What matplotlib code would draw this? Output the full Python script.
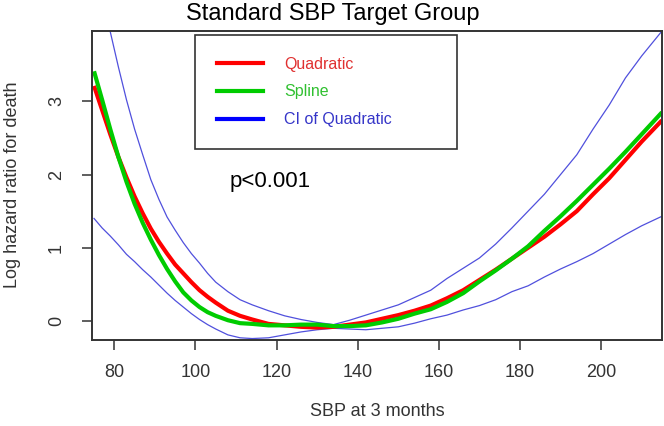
import matplotlib as mpl
mpl.use('Agg')
import matplotlib.pyplot as plt
import numpy as np

plt.rcParams['font.family'] = ['Liberation Sans', 'DejaVu Sans']

# SBP grid (mmHg) and curves
sbp = [75, 77, 79, 81, 83, 85, 87, 89, 91, 93, 95, 97, 99, 101, 103, 105, 108, 111,
       114, 118, 122, 126, 130, 134, 138, 142, 146, 150, 154, 158, 162, 166, 170,
       174, 178, 182, 186, 190, 194, 198, 202, 206, 210, 215]

quadratic = [3.21, 2.88, 2.55, 2.24, 1.96, 1.70, 1.47, 1.26, 1.08, 0.92, 0.77, 0.65,
             0.53, 0.42, 0.33, 0.25, 0.14, 0.07, 0.02, -0.04, -0.06, -0.08, -0.09,
             -0.08, -0.05, -0.02, 0.03, 0.08, 0.14, 0.21, 0.31, 0.42, 0.56, 0.70,
             0.85, 1.00, 1.15, 1.32, 1.50, 1.73, 1.95, 2.20, 2.45, 2.74]

spline = [3.41, 3.02, 2.62, 2.24, 1.90, 1.60, 1.34, 1.11, 0.90, 0.71, 0.54, 0.39,
          0.28, 0.19, 0.12, 0.07, 0.01, -0.03, -0.04, -0.06, -0.06, -0.05, -0.05,
          -0.07, -0.07, -0.06, -0.02, 0.03, 0.10, 0.16, 0.26, 0.38, 0.54, 0.69,
          0.85, 1.02, 1.23, 1.43, 1.64, 1.86, 2.08, 2.31, 2.55, 2.85]

ci_upper = [4.95, 4.45, 3.95, 3.47, 3.02, 2.62, 2.27, 1.93, 1.66, 1.42, 1.24, 1.07,
            0.92, 0.79, 0.65, 0.53, 0.40, 0.29, 0.22, 0.14, 0.07, 0.02, -0.02, -0.05,
            0.01, 0.08, 0.15, 0.22, 0.32, 0.42, 0.58, 0.72, 0.86, 1.05, 1.27, 1.50,
            1.73, 2.00, 2.27, 2.62, 2.95, 3.32, 3.62, 3.96]

ci_lower = [1.40, 1.27, 1.16, 1.04, 0.91, 0.81, 0.70, 0.60, 0.49, 0.38, 0.28, 0.19,
            0.10, 0.02, -0.05, -0.11, -0.19, -0.23, -0.24, -0.23, -0.19, -0.15, -0.12,
            -0.10, -0.11, -0.12, -0.10, -0.08, -0.03, 0.03, 0.08, 0.15, 0.21, 0.29,
            0.40, 0.48, 0.60, 0.71, 0.81, 0.92, 1.05, 1.18, 1.30, 1.43]

x_ticks = [80, 100, 120, 140, 160, 180, 200]
y_ticks = [0, 1, 2, 3]

grey = '#333333'

fig = plt.figure(figsize=(6.64, 4.26), dpi=100)
ax = fig.add_axes([92 / 664, 86 / 426, 570 / 664, 309 / 426])

ax.plot(sbp, ci_upper, color='#5050dd', lw=0.9)
ax.plot(sbp, ci_lower, color='#5050dd', lw=0.9)
ax.plot(sbp, quadratic, color='#ff0000', lw=3.0, solid_capstyle='butt')
ax.plot(sbp, spline, color='#00cc00', lw=3.0, solid_capstyle='butt')

ax.set_xlim(74.5, 215)
ax.set_ylim(-0.26, 3.96)
ax.set_xticks(x_ticks)
ax.set_yticks(y_ticks)
ax.tick_params(axis='both', length=7.5, width=1.1, color=grey, labelcolor=grey,
               labelsize=13)
ax.tick_params(axis='x', pad=10)
ax.tick_params(axis='y', pad=12)
for lab in ax.get_yticklabels():
    lab.set_rotation(90)
    lab.set_va('center')
for sp in ax.spines.values():
    sp.set_color(grey)
    sp.set_linewidth(1.4)

ax.text(108.5, 1.9, 'p<0.001', fontsize=16, ha='left', va='center', color='black')

# legend
handles = [plt.Line2D([], [], color='#ff0000', lw=3),
           plt.Line2D([], [], color='#00cc00', lw=3),
           plt.Line2D([], [], color='#0000ff', lw=3)]
labels = ['Quadratic', 'Spline', 'CI of Quadratic']
leg = ax.legend(handles, labels, loc='upper left',
                bbox_to_anchor=(195 / 664, 1 - 147 / 426, 262 / 664, 112 / 426),
                bbox_transform=fig.transFigure, mode='expand', borderaxespad=0,
                fontsize=11.5, handlelength=2.9, handletextpad=1.35, borderpad=1.35,
                labelspacing=0.8, fancybox=False, framealpha=1)
leg.get_frame().set_edgecolor(grey)
leg.get_frame().set_linewidth(1.2)
for txt, c in zip(leg.get_texts(), ['#e03030', '#30c030', '#3535c8']):
    txt.set_color(c)

fig.text(333 / 664, 1 - 14 / 426, 'Standard SBP Target Group', fontsize=17,
         ha='center', va='center', color='black')
fig.text(377 / 664, 1 - 412 / 426, 'SBP at 3 months', fontsize=13, ha='center',
         va='center', color=grey)
fig.text(13 / 664, 1 - 185 / 426, 'Log hazard ratio for death', fontsize=13,
         ha='center', va='center', rotation=90, color=grey)

fig.savefig('out.png', dpi=100)
